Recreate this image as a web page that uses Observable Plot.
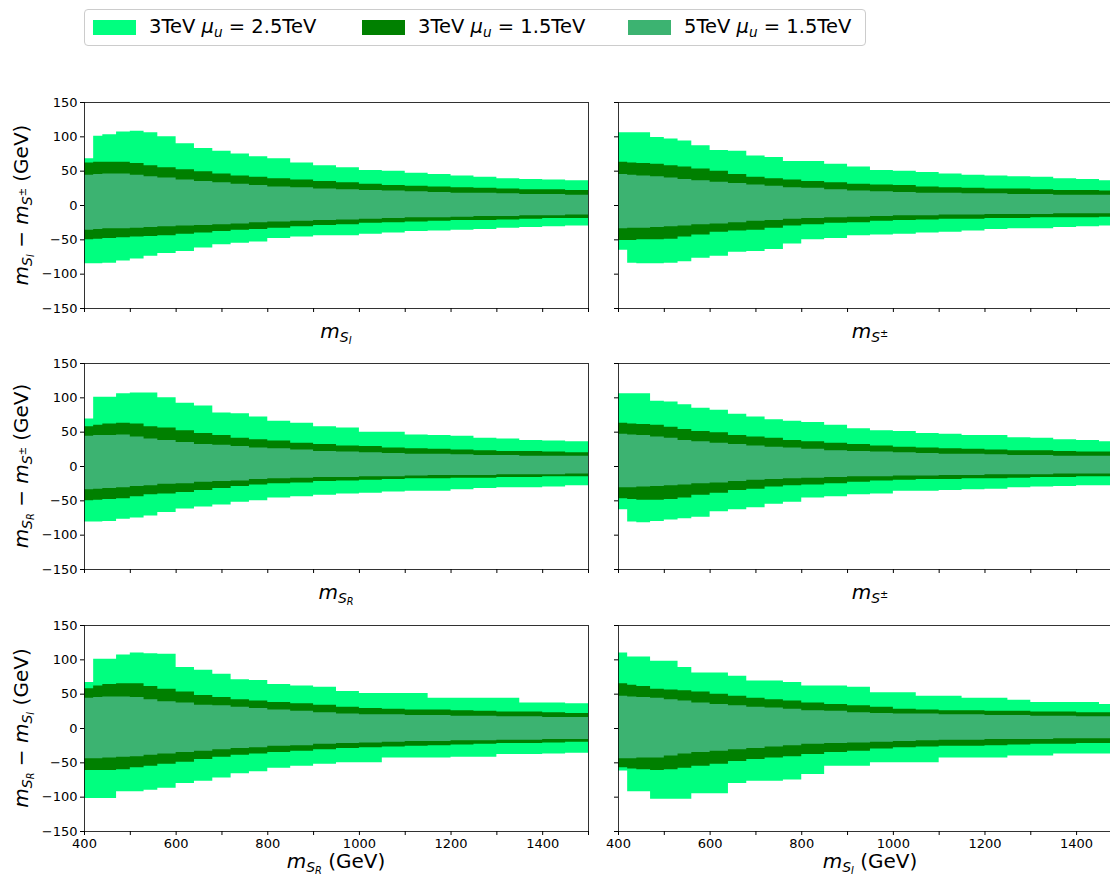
<!DOCTYPE html>
<html>
<head>
<meta charset="utf-8">
<script src="https://cdn.jsdelivr.net/npm/d3@7"></script>
<script src="https://cdn.jsdelivr.net/npm/@observablehq/plot@0.6"></script>
<style>
html, body { margin: 0; padding: 0; background: #fff; }
body { width: 1110px; height: 877px; overflow: hidden; position: relative; font-family: "DejaVu Sans", sans-serif; color: #000; }
.lab { position: absolute; font-size: 20px; white-space: nowrap; transform: translate(-50%, -50%); line-height: 1; }
.ylab { transform: translate(-50%, -50%) rotate(-90deg); }
sub, sup { font-size: 0.7em; line-height: 0; }
sub { vertical-align: -0.28em; }
sup { vertical-align: 0.55em; }
#legend { position: absolute; left: 84px; top: 9px; width: 780px; height: 35px; border: 1px solid #cccccc; border-radius: 4px; background: #fff; }
.sw { position: absolute; top: 10px; width: 43px; height: 15px; }
.lt { position: absolute; top: 17px; font-size: 19.5px; white-space: nowrap; transform: translateY(-50%); line-height: 1; }
svg { position: absolute; }
</style>
</head>
<body>
<div id="legend"></div>
<script>
// ---------- data ----------
const panelNames = ["SI-S± vs SI", "SI-S± vs S±", "SR-S± vs SR", "SR-S± vs S±", "SR-SI vs SR", "SR-SI vs SI"];
const seriesNames = ["3TeV μu=2.5TeV", "3TeV μu=1.5TeV", "5TeV μu=1.5TeV"];
const mass = [400, 420, 440, 470, 500, 530, 560, 600, 640, 680, 720, 760, 800, 850, 900, 950,
              1000, 1050, 1100, 1150, 1200, 1250, 1300, 1350, 1400, 1450, 1500];

// 3TeV mu_u = 2.5TeV (upper / lower edge), one row per panel
const lightHi = [
  [68, 101, 103, 107, 108, 106, 100, 90, 83, 79, 75, 71, 68, 62, 58, 55, 51, 50, 47, 45, 43, 41, 39, 38, 37, 36, 35],
  [106, 106, 106, 99, 97, 94, 87, 80, 79, 72, 70, 64, 64, 60, 56, 51, 50, 48, 46, 44, 43, 42, 41, 39, 38, 36, 35],
  [69, 101, 101, 106, 107, 107, 100, 92, 88, 78, 77, 72, 66, 63, 58, 56, 50, 50, 46, 45, 44, 41, 40, 38, 37, 36, 36],
  [106, 106, 106, 95, 94, 90, 85, 82, 76, 72, 68, 66, 64, 60, 55, 52, 51, 48, 47, 45, 45, 42, 41, 39, 38, 36, 35],
  [67, 101, 101, 107, 110, 109, 108, 89, 85, 79, 71, 70, 64, 62, 60, 54, 51, 51, 51, 44, 44, 44, 44, 37, 37, 36, 35],
  [110, 104, 104, 98, 98, 89, 81, 81, 76, 69, 69, 67, 62, 62, 60, 52, 52, 47, 47, 44, 44, 41, 38, 38, 38, 35, 35]
];
const lightLo = [
  [-85, -85, -84, -81, -78, -74, -70, -67, -62, -57, -55, -53, -48, -46, -44, -44, -42, -40, -38, -37, -36, -35, -33, -32, -31, -30, -27],
  [-65, -84, -85, -85, -84, -82, -77, -74, -68, -67, -64, -56, -50, -48, -44, -43, -42, -40, -39, -37, -35, -34, -34, -32, -31, -30, -30],
  [-81, -81, -80, -77, -75, -72, -67, -62, -59, -56, -52, -50, -46, -44, -42, -40, -39, -37, -36, -36, -34, -32, -31, -31, -30, -28, -27],
  [-63, -81, -82, -80, -78, -76, -74, -66, -63, -60, -55, -52, -46, -44, -41, -40, -36, -36, -35, -34, -33, -31, -30, -29, -28, -28, -28],
  [-102, -102, -102, -92, -92, -90, -87, -80, -77, -72, -66, -63, -58, -55, -52, -50, -50, -43, -43, -43, -42, -42, -38, -38, -37, -36, -34],
  [-62, -92, -92, -103, -103, -103, -95, -95, -80, -77, -77, -75, -67, -55, -55, -50, -50, -50, -43, -43, -43, -40, -40, -37, -37, -37, -36]
];
// 3TeV mu_u = 1.5TeV
const darkHi = [
  [62, 63, 63, 63, 61, 58, 55, 52, 49, 46, 43, 41, 39, 37, 35, 33, 31, 29, 28, 27, 26, 25, 24, 23, 23, 22, 22],
  [63, 62, 61, 60, 58, 56, 53, 50, 45, 41, 39, 37, 35, 33, 31, 30, 29, 27, 26, 25, 24, 24, 23, 22, 22, 21, 21],
  [58, 60, 62, 63, 62, 58, 56, 52, 48, 45, 41, 39, 37, 34, 32, 30, 29, 27, 26, 25, 24, 23, 22, 22, 21, 20, 20],
  [63, 62, 61, 60, 57, 54, 51, 49, 45, 43, 41, 38, 36, 34, 32, 30, 28, 27, 26, 25, 24, 23, 23, 22, 21, 21, 21],
  [58, 62, 64, 65, 65, 61, 57, 53, 48, 45, 42, 40, 38, 36, 34, 31, 29, 28, 27, 27, 26, 25, 24, 24, 23, 22, 21],
  [65, 63, 61, 57, 56, 55, 53, 50, 47, 44, 42, 40, 37, 35, 33, 31, 28, 27, 26, 26, 25, 25, 24, 24, 23, 23, 22]
];
const darkLo = [
  [-50, -49, -48, -47, -46, -45, -44, -42, -40, -38, -36, -35, -33, -31, -29, -28, -26, -25, -24, -23, -22, -22, -21, -20, -19, -19, -18],
  [-51, -51, -50, -50, -49, -46, -43, -39, -37, -36, -33, -30, -28, -26, -25, -23, -22, -21, -20, -20, -19, -19, -18, -18, -18, -17, -17],
  [-50, -49, -48, -47, -44, -41, -40, -38, -35, -32, -29, -27, -25, -24, -22, -21, -20, -19, -18, -18, -17, -17, -16, -16, -15, -15, -15],
  [-47, -48, -49, -49, -48, -46, -42, -39, -35, -33, -30, -28, -27, -25, -23, -21, -20, -19, -19, -18, -18, -17, -16, -16, -15, -15, -15],
  [-61, -61, -61, -60, -57, -55, -52, -49, -45, -42, -39, -37, -35, -33, -31, -29, -28, -27, -26, -25, -24, -23, -22, -22, -21, -20, -19],
  [-57, -59, -60, -61, -60, -58, -55, -52, -48, -45, -43, -41, -38, -35, -33, -30, -28, -27, -26, -26, -25, -24, -23, -23, -22, -22, -21]
];
// 5TeV mu_u = 1.5TeV
const seaHi = [
  [44, 45, 46, 46, 44, 42, 40, 37, 35, 33, 31, 29, 27, 26, 24, 23, 22, 21, 20, 19, 18, 18, 17, 16, 16, 15, 15],
  [45, 44, 43, 42, 40, 38, 36, 34, 32, 30, 28, 26, 25, 23, 21, 20, 19, 18, 18, 17, 17, 16, 16, 15, 15, 15, 15],
  [44, 45, 45, 46, 43, 40, 38, 35, 32, 31, 29, 27, 26, 24, 22, 21, 20, 19, 18, 18, 17, 16, 16, 15, 15, 15, 15],
  [47, 46, 45, 43, 41, 38, 36, 34, 32, 30, 28, 27, 25, 23, 22, 21, 20, 19, 18, 18, 17, 16, 16, 15, 15, 15, 15],
  [44, 45, 46, 46, 45, 42, 39, 37, 34, 33, 31, 29, 27, 25, 23, 21, 20, 20, 19, 19, 18, 18, 17, 17, 16, 16, 16],
  [47, 46, 45, 44, 42, 40, 37, 35, 33, 31, 30, 28, 26, 25, 23, 22, 21, 21, 20, 20, 19, 19, 18, 18, 17, 17, 16]
];
const seaLo = [
  [-36, -35, -34, -34, -33, -32, -31, -30, -29, -28, -27, -25, -24, -23, -22, -21, -20, -19, -18, -18, -17, -16, -16, -15, -15, -14, -13],
  [-34, -33, -33, -32, -31, -30, -28, -27, -25, -23, -22, -20, -19, -18, -17, -16, -15, -15, -14, -14, -13, -13, -13, -12, -12, -12, -12],
  [-34, -33, -32, -31, -29, -28, -26, -25, -23, -22, -21, -19, -18, -17, -16, -16, -15, -15, -14, -13, -13, -13, -12, -12, -12, -11, -11],
  [-31, -31, -30, -29, -28, -27, -25, -24, -22, -20, -19, -18, -17, -16, -15, -15, -14, -14, -13, -13, -12, -12, -12, -11, -11, -11, -11],
  [-44, -44, -43, -42, -41, -39, -37, -35, -33, -31, -29, -28, -26, -25, -23, -22, -21, -20, -19, -19, -18, -18, -17, -17, -16, -16, -15],
  [-44, -44, -43, -43, -40, -37, -35, -33, -31, -29, -27, -25, -23, -22, -21, -20, -19, -18, -17, -17, -16, -16, -16, -15, -15, -15, -15]
];
const xTicks = [400, 500, 600, 700, 800, 900, 1000, 1100, 1200, 1300, 1400, 1500];
const yTicks = [-150, -100, -50, 0, 50, 100, 150];
const colors = ["#00ff7f", "#008000", "#3cb371"];

// ---------- labels ----------
const mSI = '<i>m</i><sub><i>S</i><sub><i>I</i></sub></sub>';
const mSR = '<i>m</i><sub><i>S</i><sub><i>R</i></sub></sub>';
const mSpm = '<i>m</i><sub><i>S</i><sup>±</sup></sub>';
const yLabels = [`${mSI} − ${mSpm} (GeV)`, `${mSR} − ${mSpm} (GeV)`, `${mSR} − ${mSI} (GeV)`];
const xLabels = [mSI, mSpm, mSR, mSpm, `${mSR} (GeV)`, `${mSI} (GeV)`];

// ---------- layout ----------
const rowTops = [102, 363, 625];
const plotH = 206;
const fmt = d => (d < 0 ? "\u2212" + (-d) : String(d));

function addLabel(html, cx, cy, cls) {
  const el = document.createElement("div");
  el.className = "lab" + (cls ? " " + cls : "");
  el.innerHTML = html;
  el.style.left = cx + "px";
  el.style.top = cy + "px";
  document.body.appendChild(el);
}

for (let i = 0; i < 6; i++) {
  const row = Math.floor(i / 2), col = i % 2;
  const left = col === 0, bottom = row === 2;
  const rows = mass.map((m, k) => ({
    m,
    lh: lightHi[i][k], ll: lightLo[i][k],
    dh: darkHi[i][k], dl: darkLo[i][k],
    sh: seaHi[i][k], sl: seaLo[i][k]
  }));
  const xMax = left ? 1500 : 1474;
  const mT = 10, mB = 32;
  const mL = left ? 84 : 10;
  const mR = left ? 12 : 0;
  const innerW = left ? 504 : 492;
  const ticks = xTicks.filter(t => t <= xMax);
  const frameMarks = left
    ? [Plot.frame({stroke: "#000", strokeWidth: 0.8})]
    : [Plot.ruleY([-150, 150], {stroke: "#000", strokeWidth: 0.8}), Plot.ruleX([400], {stroke: "#000", strokeWidth: 0.8})];
  const chart = Plot.plot({
    width: mL + innerW + mR,
    height: mT + plotH + mB,
    marginTop: mT, marginBottom: mB, marginLeft: mL, marginRight: mR,
    x: {domain: [400, xMax]},
    y: {domain: [-150, 150]},
    style: {fontFamily: "DejaVu Sans", fontSize: "13px", color: "#000", background: "transparent", overflow: "visible"},
    marks: [
      Plot.areaY(rows, {x: "m", y1: "ll", y2: "lh", fill: colors[0], curve: "step-after", clip: true}),
      Plot.areaY(rows, {x: "m", y1: "dl", y2: "dh", fill: colors[1], curve: "step-after", clip: true}),
      Plot.areaY(rows, {x: "m", y1: "sl", y2: "sh", fill: colors[2], curve: "step-after", clip: true}),
      Plot.axisX({ticks, tickSize: 4, tickPadding: 3, label: null,
        tickFormat: bottom ? (d => (d % 200 === 0 ? String(d) : "")) : () => ""}),
      Plot.axisY({ticks: yTicks, tickSize: 4, tickPadding: 3, label: null,
        tickFormat: left ? fmt : () => ""}),
      ...frameMarks
    ]
  });
  chart.style.left = (left ? 0 : 608) + "px";
  chart.style.top = (rowTops[row] - mT) + "px";
  document.body.appendChild(chart);

  const cx = left ? 84 + 504 / 2 : 618 + 504 / 2;
  const cy = bottom ? rowTops[row] + plotH + 30 : rowTops[row] + plotH + 23;
  addLabel(xLabels[i], cx, cy);
  if (left) addLabel(yLabels[row], 21, rowTops[row] + plotH / 2, "ylab");
}

// ---------- legend ----------
const legend = document.getElementById("legend");
const legendHtml = [
  '3TeV <i>μ</i><sub><i>u</i></sub> = 2.5TeV',
  '3TeV <i>μ</i><sub><i>u</i></sub> = 1.5TeV',
  '5TeV <i>μ</i><sub><i>u</i></sub> = 1.5TeV'
];
const swX = [8, 277, 543];
seriesNames.forEach((name, j) => {
  const sw = document.createElement("div");
  sw.className = "sw";
  sw.style.left = swX[j] + "px";
  sw.style.background = colors[j];
  legend.appendChild(sw);
  const t = document.createElement("div");
  t.className = "lt";
  t.style.left = (swX[j] + 56) + "px";
  t.innerHTML = legendHtml[j];
  legend.appendChild(t);
});
</script>
</body>
</html>
